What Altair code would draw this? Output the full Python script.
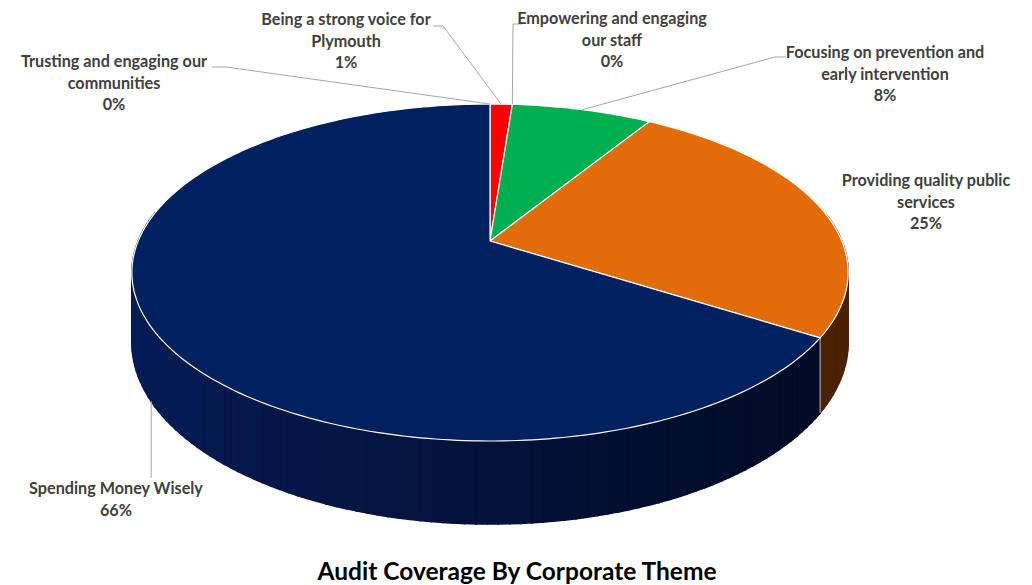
import math
import numpy as np
import pandas as pd
import altair as alt

# ---------------- data ----------------
categories = [
    "Being a strong voice for Plymouth",
    "Empowering and engaging our staff",
    "Focusing on prevention and early intervention",
    "Providing quality public services",
    "Spending Money Wisely",
    "Trusting and engaging our communities",
]
shares = [1.2, 0.0, 7.6, 25.2, 66.0, 0.0]
label_lines = [
    ["Being a strong voice for", "Plymouth"],
    ["Empowering and engaging", "our staff"],
    ["Focusing on prevention and", "early intervention"],
    ["Providing quality public", "services"],
    ["Spending Money Wisely"],
    ["Trusting and engaging our", "communities"],
]
title_text = "Audit Coverage By Corporate Theme"

# ---------------- styles / layout ----------------
top_colors = ["#FF0000", "#7F7F7F", "#00B050", "#E36C0A", "#002060", "#A5A5A5"]
side_light = ["#8a0000", "#404040", "#005c2a", "#6b3406", "#051c58", "#555555"]
side_dark = ["#5a0000", "#2a2a2a", "#003a1a", "#4a2202", "#020a24", "#3a3a3a"]

W, H = 1032, 585
CX, CY, RX, RY, PERSP, DEPTH = 490, 241, 351.8, 162.6, 0.187, 67.5
FONT = "Lato"

# label anchor: (center x, baseline of first line)
label_pos = [(346, 25), (612, 24), (885, 58), (926, 186), (116, 494), (114, 67)]
# leader lines: points near the label, then the slice's rim; depth 1 = bottom rim
leader_pts = [
    [(433, 26), (443, 26)],
    [(522, 24), (513, 24)],
    [(786, 57), (775, 57)],
    None,
    "drop:478",
    [(212, 67), (226, 67)],
]
leader_depth = [0, 0, 0, 0, 1, 0]


def project(theta, h=0.0):
    d = 1 + PERSP * math.cos(theta)
    return CX + RX * math.sin(theta) / d, CY - RY * math.cos(theta) / d + h * DEPTH / d


def hex2rgb(h):
    h = h.lstrip("#")
    return [int(h[i:i + 2], 16) for i in (0, 2, 4)]


def lerp_col(c0, c1, f):
    a, b = hex2rgb(c0), hex2rgb(c1)
    return "#" + "".join(f"{int(round(a[i] + (b[i] - a[i]) * f)):02x}" for i in range(3))


total = sum(shares)
cum = np.cumsum(shares)
ends = cum / total * 2 * math.pi
starts = np.concatenate([[0.0], ends[:-1]])

xmin = CX - RX * 1.0177
xmax = CX + RX * 1.0177

rows_top, rows_side, rows_edge, rows_lead, rows_text = [], [], [], [], []

for k in range(len(categories)):
    a0, a1 = float(starts[k]), float(ends[k])
    if shares[k] <= 0:
        continue
    # top face
    n = max(2, int(math.degrees(a1 - a0)) + 2)
    pts = [(CX, CY)] + [project(a0 + (a1 - a0) * j / (n - 1)) for j in range(n)] + [(CX, CY)]
    for i, (x, y) in enumerate(pts):
        rows_top.append(dict(poly=f"t{k}", i=i, x=x, y=y, fill=top_colors[k]))
    # side wall (front part only)
    lo, hi = math.radians(80), math.radians(280)
    s, e = max(a0, lo), min(a1, hi)
    if e > s:
        m = max(1, math.ceil(math.degrees(e - s) / 1.5))
        for j in range(m):
            t0 = s + (e - s) * j / m
            t1 = s + (e - s) * (j + 1) / m
            quad = [project(t0, 0), project(t1, 0), project(t1, 1), project(t0, 1)]
            xm = sum(p[0] for p in quad) / 4
            f = min(1, max(0, (xm - xmin) / (xmax - xmin))) ** 0.8
            col = lerp_col(side_light[k], side_dark[k], f)
            for i, (x, y) in enumerate(quad + [quad[0]]):
                rows_side.append(dict(poly=f"s{k}_{j:04d}", i=i, x=x, y=y, fill=col))

# visible boundaries on the side wall
for b in ends:
    b = float(b) % (2 * math.pi)
    if math.radians(92) < b < math.radians(268):
        for i, h in enumerate([0, 1]):
            x, y = project(b, h)
            rows_edge.append(dict(poly=f"e{b:.3f}", i=i, x=x, y=y))

# labels and leaders
for k in range(len(categories)):
    pct = f"{round(shares[k] / total * 100)}%"
    lx, ly = label_pos[k]
    rows_text.append(dict(x=lx, y=ly, text="\n".join(label_lines[k] + [pct])))
    lp = leader_pts[k]
    if lp is None:
        continue
    mid = (float(starts[k]) + float(ends[k])) / 2
    ax, ay = project(mid, leader_depth[k])
    if isinstance(lp, str):
        pts = [(ax, float(lp.split(":")[1])), (ax, ay)]
    else:
        pts = list(lp) + [(ax, ay)]
    for i, (x, y) in enumerate(pts):
        rows_lead.append(dict(poly=f"l{k}", i=i, x=x, y=y))

top_df = pd.DataFrame(rows_top)
side_df = pd.DataFrame(rows_side)
edge_df = pd.DataFrame(rows_edge)
lead_df = pd.DataFrame(rows_lead)
text_df = pd.DataFrame(rows_text)
title_df = pd.DataFrame([dict(x=517, y=580, text=title_text)])

xs = alt.Scale(domain=[0, W], nice=False, zero=False)
ys = alt.Scale(domain=[0, H], nice=False, zero=False, reverse=True)
X = alt.X("x:Q", scale=xs, axis=None)
Y = alt.Y("y:Q", scale=ys, axis=None)

side = alt.Chart(side_df).mark_line(strokeWidth=1.6, interpolate="linear").encode(
    x=X, y=Y, order=alt.Order("i:Q"), detail="poly:N",
    fill=alt.Fill("fill:N", scale=None), stroke=alt.Stroke("fill:N", scale=None),
)
edges = alt.Chart(edge_df).mark_line(strokeWidth=1, color="#c9c9c9").encode(
    x=X, y=Y, order=alt.Order("i:Q"), detail="poly:N"
)
top = alt.Chart(top_df).mark_line(strokeWidth=1.2, stroke="white", interpolate="linear").encode(
    x=X, y=Y, order=alt.Order("i:Q"), detail="poly:N",
    fill=alt.Fill("fill:N", scale=None),
)
leaders = alt.Chart(lead_df).mark_line(strokeWidth=1, color="#a6a6a6").encode(
    x=X, y=Y, order=alt.Order("i:Q"), detail="poly:N"
)
labels = alt.Chart(text_df).mark_text(
    font=FONT, fontSize=16.2, fontWeight="bold", color="#404040",
    align="center", baseline="alphabetic", lineBreak="\n", lineHeight=21.5,
).encode(x=X, y=Y, text="text:N")
title = alt.Chart(title_df).mark_text(
    font=FONT, fontSize=24.5, fontWeight="bold", color="#000000",
    align="center", baseline="alphabetic",
).encode(x=X, y=Y, text="text:N")

chart = alt.layer(side, edges, top, leaders, labels, title).properties(
    width=W, height=H, padding=0, autosize="none", background="white"
).configure_view(stroke=None)

chart.save("out.html", embed_options={"renderer": "svg", "actions": False})
